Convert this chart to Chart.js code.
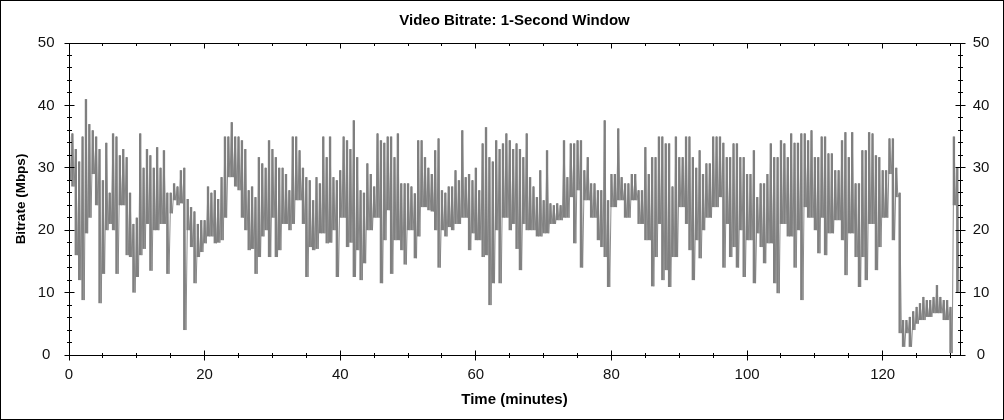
<!DOCTYPE html>
<html>
<head>
<meta charset="utf-8">
<title>Video Bitrate: 1-Second Window</title>
<script src="https://cdn.jsdelivr.net/npm/chart.js@4.4.0/dist/chart.umd.min.js"></script>
<style>
    html, body { margin: 0; padding: 0; background: #fff; }
    #wrap { width: 1004px; height: 420px; }
</style>
</head>
<body>
<div id="wrap"><canvas id="bitrateChart" width="1004" height="420"></canvas></div>
<script>
// one pair of readings (peak, trough) every half minute
const STEP_MIN = 0.5;
const peakMbps = [
    35, 35.5, 33, 31, 35, 41, 37, 36, 35, 33,
    28, 34, 26, 35.5, 35, 32, 33, 31.7, 26, 21,
    22, 35.5, 30, 33, 32, 30, 33.3, 30, 32.8, 26,
    26, 27.5, 27, 29.6, 30, 25, 23.7, 23, 21, 21.6,
    21.6, 27, 26, 26.4, 25, 28.5, 35, 35, 37.3, 35,
    35, 34.4, 33, 26.4, 27, 25.3, 31.7, 30.7, 30, 34.4,
    33, 31.7, 30, 30, 29, 26.4, 35, 35, 32.8, 30,
    28.5, 28, 24.8, 28.5, 27.5, 35, 31.7, 35, 28.5, 28,
    29.6, 35, 34.4, 33, 37.6, 31.7, 26.4, 26, 30.7, 29,
    27, 35.5, 34.4, 34, 35, 35, 31.7, 35.5, 27.5, 27.5,
    27.5, 27, 25.9, 34.4, 34.4, 31.7, 30, 29, 32.8, 34.7,
    26.4, 26, 27, 27, 29.6, 28, 36, 28.5, 29, 28,
    30, 26.4, 33.9, 36.5, 31.7, 31, 34.4, 33, 33.9, 35.5,
    34.4, 33, 33.9, 33, 31.7, 35.5, 28.5, 27, 25.3, 29.6,
    24.8, 32.8, 24.3, 24, 24.3, 24, 34.4, 28.5, 33.9, 33.9,
    34.4, 34.4, 29.6, 31.7, 27.5, 27.5, 26.4, 26.4, 37.6, 24.8,
    29, 29, 36.3, 28.5, 27.5, 27.5, 29, 29, 26.4, 26.4,
    33.3, 29, 31.7, 31.7, 35, 35, 33.9, 33.9, 27, 35,
    31.7, 31.7, 35, 35, 31.7, 30, 32.8, 29, 30.7, 30.7,
    35, 35, 35, 34, 31.7, 31.7, 33.9, 33.9, 31.7, 31.7,
    29, 29, 32.8, 25.3, 27.5, 27.5, 29, 33.9, 31.7, 31.7,
    34.4, 33.9, 31.7, 35.5, 34, 34, 35.5, 35.5, 34.4, 36,
    31.7, 31.7, 35, 35, 32.3, 32.3, 29.6, 29.6, 34.4, 35.7,
    31.7, 35.7, 27.5, 27.5, 32.8, 32.8, 35.7, 35.5, 32, 31.7,
    29.6, 29.6, 34.7, 34.7, 30, 26, 5.6, 5.6, 6.1, 7,
    7.7, 8.3, 9.3, 8.8, 8.8, 9.3, 11.2, 9.3, 8.8, 8.8,
    7.7, 35, 30
];
const troughMbps = [
    28, 27, 16, 12, 8.8, 19.5, 22, 29, 24, 8.3,
    13, 20, 21, 20, 13, 24, 24, 16, 15.7, 10,
    12.5, 16, 17, 21, 13.5, 20, 20, 21, 21, 13,
    22.7, 24.8, 24, 24.3, 4, 20, 17.3, 11.5, 15.7, 16.5,
    17.9, 19, 19, 17.9, 18, 18.4, 22, 28.5, 28.5, 27,
    26.4, 22, 20, 16.8, 17, 13, 15.7, 19, 20, 15.7,
    22, 15.7, 16.8, 21, 21, 20, 21, 24.8, 24.8, 21,
    12.5, 17.3, 16.8, 17, 19.5, 19.5, 17.9, 18, 20, 12.5,
    22, 22, 17.3, 18, 12.5, 16.8, 12, 14.7, 20, 20,
    22, 22, 11.5, 18.4, 23.2, 13, 18.4, 18.4, 16.8, 14.5,
    20, 20, 15.5, 19, 23.7, 23.7, 23.2, 23, 20, 14,
    20, 19, 20.5, 20, 21, 21, 22, 22, 16.8, 19.5,
    18.4, 18.4, 15.7, 16, 8, 11.5, 20, 11.5, 22, 22,
    20, 21, 17, 13.6, 21, 20, 20, 20, 19, 19,
    19.5, 19.5, 21, 21, 21.6, 21.6, 22, 22, 25.3, 17.9,
    26.4, 14, 24.8, 24.8, 22, 22, 18.4, 17.3, 15.7, 10.9,
    23.7, 23.7, 24.8, 24.8, 22, 22, 24.8, 24.8, 21, 21,
    18.4, 18.4, 11, 15.7, 21, 12, 13.6, 10.9, 15.7, 15.7,
    23.7, 23.7, 21, 16.8, 12, 18.4, 15.5, 20, 22, 22,
    23.7, 23.7, 25.3, 14, 21, 15.7, 17.3, 14, 20, 12.5,
    18.4, 18.4, 11.5, 19.5, 17.3, 14.7, 17.9, 17.9, 11.5, 9.9,
    21, 21, 19, 19, 14, 20, 8.8, 23.7, 22, 22,
    20, 16.3, 22, 16, 19.5, 19.5, 21.6, 21.6, 18.4, 12.8,
    19.5, 19.5, 15.7, 10.9, 15.7, 12, 21, 21, 13.6, 17.3,
    22, 22, 29, 18.4, 25.3, 3.5, 1.3, 3.5, 1.3, 4,
    5, 5.6, 5.6, 6.1, 6.1, 6.7, 6.7, 6.7, 5.6, 5.6,
    0.3, 24, 10
];
const xTicks = [0, 20, 40, 60, 80, 100, 120];
const yTicks = [0, 10, 20, 30, 40, 50];
const X_MAX = 131.4;
const Y_MAX = 50;

const FONT = "'Liberation Sans', Arial, sans-serif";

// each half minute is a slim floating column from trough to peak
const spans = peakMbps.map((hi, i) => ({ x: i * STEP_MIN, y: [troughMbps[i], hi] }));
// thin zig-zag between the columns fills the gaps like the dense 1s trace
const needles = [];
peakMbps.forEach((hi, i) => {
    needles.push({ x: i * STEP_MIN, y: hi });
    needles.push({ x: i * STEP_MIN + STEP_MIN / 2, y: troughMbps[i] });
});

// box round the plot, inner/outer tick marks, and the image frame
const axisFrame = {
    id: 'axisFrame',
    afterDraw(chart) {
        const { ctx, chartArea: a } = chart;
        const xs = chart.scales.x, ys = chart.scales.y;
        const L = Math.floor(a.left) + 0.5, R = Math.floor(a.right) + 0.5;
        const T = Math.floor(a.top) + 0.5, B = Math.floor(a.bottom) + 0.5;
        ctx.save();
        ctx.strokeStyle = '#000';
        ctx.lineWidth = 1;
        ctx.strokeRect(L, T, R - L, B - T);
        ctx.beginPath();
        for (let m = 0; m <= X_MAX; m += 5) {
            const px = Math.floor(xs.getPixelForValue(m)) + 0.5;
            const len = m % 20 === 0 ? 5 : 2.5;
            ctx.moveTo(px, B - len); ctx.lineTo(px, B + len);
            ctx.moveTo(px, T); ctx.lineTo(px, T + len);
        }
        for (let v = 0; v <= Y_MAX; v += 2) {
            const py = Math.floor(ys.getPixelForValue(v)) + 0.5;
            const len = v % 10 === 0 ? 5 : 2.5;
            ctx.moveTo(L - len, py); ctx.lineTo(L + len, py);
            ctx.moveTo(R - len, py); ctx.lineTo(R + len, py);
        }
        ctx.stroke();
        ctx.strokeRect(0.5, 0.5, chart.width - 1, chart.height - 1);
        ctx.restore();
    }
};

const tickFont = { family: FONT, size: 15 };
const titleFont = { family: FONT, size: 15, weight: 'bold' };

new Chart(document.getElementById('bitrateChart'), {
    type: 'bar',
    data: {
        datasets: [{
            type: 'line',
            data: needles,
            borderColor: 'rgba(128,128,128,0.9)',
            borderWidth: 1,
            tension: 0,
            pointRadius: 0,
            fill: false,
            order: 1
        }, {
            type: 'bar',
            data: spans,
            backgroundColor: 'rgb(128,128,128)',
            borderWidth: 0,
            barPercentage: 0.7,
            categoryPercentage: 1,
            grouped: false,
            order: 2
        }]
    },
    options: {
        responsive: false,
        devicePixelRatio: 1,
        animation: false,
        events: [],
        layout: { padding: 0 },
        plugins: {
            legend: { display: false },
            tooltip: { enabled: false },
            title: {
                display: true,
                fullSize: false,
                text: 'Video Bitrate: 1-Second Window',
                color: '#000',
                font: titleFont,
                padding: { top: 12, bottom: 13 }
            }
        },
        scales: {
            x: {
                type: 'linear',
                offset: false,
                min: 0,
                max: X_MAX,
                afterBuildTicks: s => { s.ticks = xTicks.map(v => ({ value: v })); },
                afterFit: s => { s.height = 65; },
                grid: { display: false, drawTicks: false, offset: false },
                border: { display: false },
                ticks: { color: '#111', font: tickFont, padding: 11, maxRotation: 0 },
                title: {
                    display: true,
                    text: 'Time (minutes)',
                    color: '#000',
                    font: titleFont,
                    padding: { top: 0, bottom: 11.5 }
                }
            },
            y: {
                position: 'left',
                min: 0,
                max: Y_MAX,
                afterBuildTicks: s => { s.ticks = yTicks.map(v => ({ value: v })); },
                afterFit: s => { s.width = 69; },
                grid: { display: false, drawTicks: false },
                border: { display: false },
                ticks: { color: '#111', font: tickFont, padding: 14.5, crossAlign: 'center' },
                title: {
                    display: true,
                    text: 'Bitrate (Mbps)',
                    color: '#000',
                    font: { family: FONT, size: 13.5, weight: 'bold' },
                    padding: { top: 13, bottom: 0 }
                }
            },
            y2: {
                position: 'right',
                display: true,
                min: 0,
                max: Y_MAX,
                afterBuildTicks: s => { s.ticks = yTicks.map(v => ({ value: v })); },
                afterFit: s => { s.width = 44; },
                grid: { display: false, drawTicks: false },
                border: { display: false },
                ticks: { color: '#111', font: tickFont, padding: 12.7, crossAlign: 'center' }
            }
        }
    },
    plugins: [axisFrame]
});
</script>
</body>
</html>
